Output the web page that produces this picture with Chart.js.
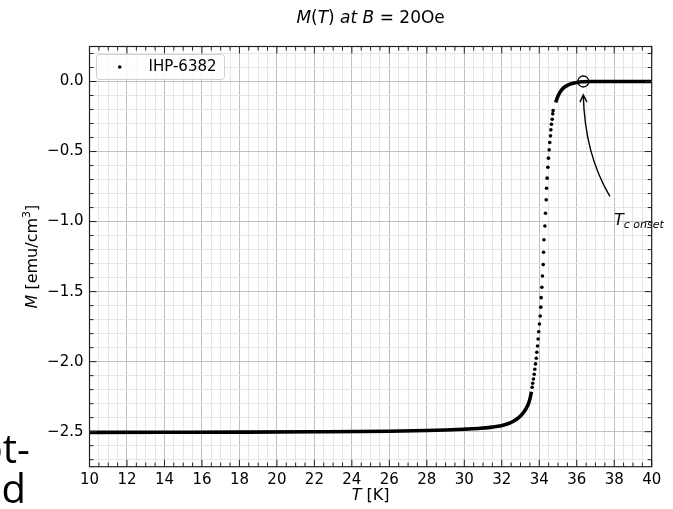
<!DOCTYPE html>
<html>
<head>
<meta charset="utf-8">
<script src="https://cdn.jsdelivr.net/npm/chart.js@4.4.1/dist/chart.umd.min.js"></script>
<style>
  html, body { margin: 0; padding: 0; background: #fff; }
  #wrap { position: relative; width: 673px; height: 509px; overflow: hidden; }
  #chart { position: absolute; left: 0; top: 0; }
  .slide { position: absolute; font-family: 'Open Sans', sans-serif; font-size: 40px; line-height: 1; color: #000; white-space: nowrap; }
</style>
</head>
<body>
<div id="wrap">
  <canvas id="chart" width="673" height="509"></canvas>
  <div class="slide" style="right: 643px; top: 428px;">ot-</div>
  <div class="slide" style="right: 647px; top: 468px;">d</div>
</div>
<script>
'use strict';

/* data */
// dense low-temperature branch (drawn as a thick line of overlapping dots)
const lowT = [10, 14, 18, 22, 26, 28, 29, 30, 30.86, 31.39, 31.8, 32.11, 32.4, 32.64, 32.9, 33.09, 33.25, 33.35, 33.45, 33.53, 33.58];
const lowM = [-2.505, -2.504, -2.503, -2.501, -2.497, -2.492, -2.488, -2.482, -2.476, -2.469, -2.461, -2.452, -2.44, -2.424, -2.40, -2.374, -2.345, -2.321, -2.29, -2.25, -2.215];
// separated dots through the transition
const stepT = [33.62, 33.65, 33.69, 33.73, 33.76, 33.80, 33.84, 33.87, 33.91, 33.94, 33.97, 34.01, 34.05, 34.08, 34.10, 34.14, 34.17, 34.21, 34.23, 34.25, 34.30, 34.33, 34.37, 34.39, 34.42, 34.46, 34.49, 34.53, 34.56, 34.60, 34.62, 34.65, 34.69, 34.72, 34.74];
const stepM = [-2.183, -2.154, -2.124, -2.090, -2.054, -2.016, -1.976, -1.933, -1.888, -1.838, -1.786, -1.731, -1.674, -1.611, -1.543, -1.469, -1.388, -1.307, -1.219, -1.13, -1.031, -0.940, -0.845, -0.762, -0.690, -0.612, -0.547, -0.488, -0.435, -0.388, -0.345, -0.305, -0.269, -0.231, -0.207];
// dense branch above the transition
const highT = [34.88, 34.95, 35.04, 35.15, 35.31, 35.5, 35.76, 36.0, 36.3, 36.8, 37.5, 38.5, 40];
const highM = [-0.15, -0.12, -0.093, -0.068, -0.044, -0.027, -0.014, -0.007, -0.002, 0.0, 0.0, 0.0, 0.0];
// T_c onset marker and arrow (start, control, tip)
const onsetT = [36.35];
const onsetM = [0.0];
const arrowT = [37.77, 36.42, 36.35];
const arrowM = [-0.82, -0.518, -0.095];

const seriesName = 'IHP-6382';
const xMajorTicks = [10, 12, 14, 16, 18, 20, 22, 24, 26, 28, 30, 32, 34, 36, 38, 40];
const yMajorTicks = [-2.5, -2.0, -1.5, -1.0, -0.5, 0.0];
const xRange = [10, 40];
const yRange = [-2.75, 0.25];
const xMinor = 0.5;
const yMinor = 0.1;

const FONT = "'DejaVu Sans'";
Chart.defaults.color = '#000';
Chart.defaults.font.family = FONT;

const toXY = (xs, ys) => xs.map((x, i) => ({ x: x, y: ys[i] }));
const isMajor = (v, majors) => majors.some((m) => Math.abs(m - v) < 1e-6);
const fmtY = (v) => (v < -1e-9 ? '\u2212' : '') + Math.abs(v).toFixed(1);

function buildTicks(min, max, step) {
  const out = [];
  const a = Math.ceil(min / step - 1e-9);
  const b = Math.floor(max / step + 1e-9);
  for (let i = a; i <= b; i++) out.push({ value: +(i * step).toFixed(6) });
  return out;
}

// draw a run of text pieces, some italic, starting at x
function drawPieces(ctx, pieces, x, y) {
  pieces.forEach((p) => {
    ctx.font = (p.it ? 'italic ' : '') + p.size + 'px ' + FONT;
    ctx.fillText(p.t, x, y + (p.dy || 0));
    x += ctx.measureText(p.t).width;
  });
  return x;
}
function piecesWidth(ctx, pieces) {
  let w = 0;
  pieces.forEach((p) => {
    ctx.font = (p.it ? 'italic ' : '') + p.size + 'px ' + FONT;
    w += ctx.measureText(p.t).width;
  });
  return w;
}

const decorations = {
  id: 'decorations',
  afterDatasetsDraw(chart) {
    const ctx = chart.ctx;
    const area = chart.chartArea;
    const xs = chart.scales.x;
    const ys = chart.scales.y;
    ctx.save();

    // frame
    ctx.strokeStyle = '#222';
    ctx.lineWidth = 1.2;
    ctx.strokeRect(area.left, area.top, area.right - area.left, area.bottom - area.top);

    // inward ticks on all four sides
    ctx.lineWidth = 1;
    ctx.beginPath();
    xs.ticks.forEach((t) => {
      const px = xs.getPixelForValue(t.value);
      const len = isMajor(t.value, xMajorTicks) ? 7 : 4;
      ctx.moveTo(px, area.bottom); ctx.lineTo(px, area.bottom - len);
      ctx.moveTo(px, area.top); ctx.lineTo(px, area.top + len);
    });
    ys.ticks.forEach((t) => {
      const py = ys.getPixelForValue(t.value);
      const len = isMajor(t.value, yMajorTicks) ? 7 : 4;
      ctx.moveTo(area.left, py); ctx.lineTo(area.left + len, py);
      ctx.moveTo(area.right, py); ctx.lineTo(area.right - len, py);
    });
    ctx.stroke();

    // curved arrow to the onset marker
    const p0 = [xs.getPixelForValue(arrowT[0]), ys.getPixelForValue(arrowM[0])];
    const c = [xs.getPixelForValue(arrowT[1]), ys.getPixelForValue(arrowM[1])];
    const p2 = [xs.getPixelForValue(arrowT[2]), ys.getPixelForValue(arrowM[2])];
    ctx.strokeStyle = '#000';
    ctx.lineWidth = 1.4;
    ctx.beginPath();
    ctx.moveTo(p0[0], p0[1]);
    ctx.quadraticCurveTo(c[0], c[1], p2[0], p2[1]);
    const ang = Math.atan2(p2[1] - c[1], p2[0] - c[0]);
    const hl = 8, ha = 0.45;
    ctx.moveTo(p2[0] - hl * Math.cos(ang - ha), p2[1] - hl * Math.sin(ang - ha));
    ctx.lineTo(p2[0], p2[1]);
    ctx.lineTo(p2[0] - hl * Math.cos(ang + ha), p2[1] - hl * Math.sin(ang + ha));
    ctx.stroke();

    // annotation text
    ctx.fillStyle = '#000';
    ctx.textBaseline = 'alphabetic';
    ctx.textAlign = 'left';
    ctx.font = 'italic 16px ' + FONT;
    ctx.fillText('T', 614, 225);
    const tw = ctx.measureText('T').width;
    ctx.font = 'italic 11px ' + FONT;
    ctx.fillText('c onset', 614 + tw, 228);

    // legend
    const lx = 96.5, ly = 54.5;
    ctx.font = '15px ' + FONT;
    const lw = 148.5 + ctx.measureText(seriesName).width + 8 - lx;
    const lh = 25;
    ctx.beginPath();
    ctx.roundRect(lx, ly, lw, lh, 3);
    ctx.fillStyle = 'rgba(255,255,255,0.8)';
    ctx.fill();
    ctx.strokeStyle = '#d0d0d0';
    ctx.lineWidth = 1;
    ctx.stroke();
    ctx.fillStyle = '#000';
    ctx.beginPath();
    ctx.arc(119.7, 67, 1.8, 0, Math.PI * 2);
    ctx.fill();
    ctx.textBaseline = 'middle';
    ctx.fillText(seriesName, 148.5, 67.5);

    // title
    const cx = (area.left + area.right) / 2;
    const title = [
      { t: 'M', it: true, size: 17 }, { t: '(', size: 17 }, { t: 'T', it: true, size: 17 },
      { t: ')', size: 17 }, { t: ' at ', it: true, size: 17 }, { t: 'B', it: true, size: 17 },
      { t: ' = 20Oe', size: 17 }
    ];
    ctx.textBaseline = 'alphabetic';
    drawPieces(ctx, title, cx - piecesWidth(ctx, title) / 2, 23);

    // x axis title
    const xt = [{ t: 'T', it: true, size: 16 }, { t: ' [K]', size: 16 }];
    drawPieces(ctx, xt, cx - piecesWidth(ctx, xt) / 2, 500);

    // y axis title (rotated)
    const yt = [
      { t: 'M', it: true, size: 16 }, { t: ' [emu/cm', size: 16 },
      { t: '3', size: 11, dy: -7 }, { t: ']', size: 16 }
    ];
    ctx.translate(37, (area.top + area.bottom) / 2);
    ctx.rotate(-Math.PI / 2);
    drawPieces(ctx, yt, -piecesWidth(ctx, yt) / 2, 0);

    ctx.restore();
  }
};

const gridColor = (majors) => (c) => {
  if (!c.tick) return 'rgba(0,0,0,0)';
  return isMajor(c.tick.value, majors) ? '#c0c0c0' : '#e6e6e6';
};

new Chart(document.getElementById('chart'), {
  type: 'scatter',
  data: {
    datasets: [
      {
        label: seriesName,
        data: toXY(stepT, stepM),
        showLine: false,
        pointRadius: 1.8,
        pointBackgroundColor: '#000',
        pointBorderWidth: 0
      },
      {
        label: 'low',
        data: toXY(lowT, lowM),
        showLine: true,
        borderColor: '#000',
        borderWidth: 3.6,
        pointRadius: 0,
        cubicInterpolationMode: 'monotone'
      },
      {
        label: 'high',
        data: toXY(highT, highM),
        showLine: true,
        borderColor: '#000',
        borderWidth: 3.6,
        pointRadius: 0,
        cubicInterpolationMode: 'monotone'
      },
      {
        label: 'onset',
        data: toXY(onsetT, onsetM),
        showLine: false,
        pointRadius: 5.5,
        pointBackgroundColor: 'rgba(0,0,0,0)',
        pointBorderColor: '#000',
        pointBorderWidth: 1.3
      }
    ]
  },
  options: {
    responsive: false,
    animation: false,
    layout: { padding: { top: 46.5, right: 21.3, bottom: 0, left: 0 } },
    plugins: {
      legend: { display: false },
      title: { display: false },
      tooltip: { enabled: false }
    },
    scales: {
      x: {
        type: 'linear',
        min: xRange[0],
        max: xRange[1],
        afterBuildTicks: (axis) => { axis.ticks = buildTicks(xRange[0], xRange[1], xMinor); },
        afterFit: (axis) => { axis.height = 42.3; },
        ticks: {
          autoSkip: false,
          maxRotation: 0,
          padding: 4,
          font: { size: 15 },
          callback: (v) => (isMajor(v, xMajorTicks) ? String(Math.round(v)) : '')
        },
        grid: { color: gridColor(xMajorTicks), lineWidth: 1, drawTicks: false },
        border: { display: false }
      },
      y: {
        type: 'linear',
        min: yRange[0],
        max: yRange[1],
        afterBuildTicks: (axis) => { axis.ticks = buildTicks(yRange[0], yRange[1], yMinor); },
        afterFit: (axis) => { axis.width = 89.5; },
        ticks: {
          autoSkip: false,
          padding: 6,
          font: { size: 15 },
          callback: (v) => (isMajor(v, yMajorTicks) ? fmtY(v) : '')
        },
        grid: { color: gridColor(yMajorTicks), lineWidth: 1, drawTicks: false },
        border: { display: false }
      }
    }
  },
  plugins: [decorations]
});
</script>
</body>
</html>
